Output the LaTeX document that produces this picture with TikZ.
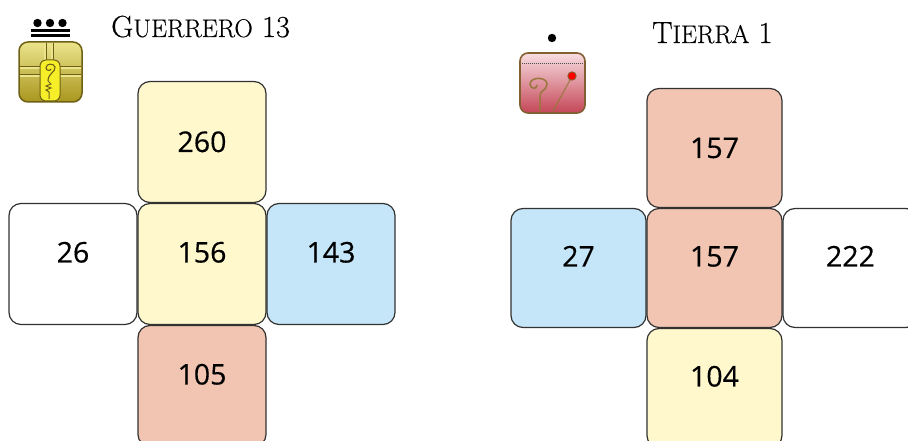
\documentclass[tikz,border=0pt]{standalone}
\usepackage{fontspec}
\newfontfamily\numfont{Open Sans}[FakeBold=0.4]
\newfontfamily\titlefont{Latin Modern Roman}[FakeBold=0.5]
\usetikzlibrary{positioning}
\definecolor{cellyellow}{RGB}{255,248,204}
\definecolor{cellblue}{RGB}{197,230,249}
\definecolor{cellred}{RGB}{241,197,178}
\definecolor{cellline}{RGB}{50,50,50}
\definecolor{goldedge}{RGB}{110,96,20}
\definecolor{goldlight}{RGB}{236,228,140}
\definecolor{golddark}{RGB}{168,150,30}
\definecolor{keyyellow}{RGB}{246,238,40}
\definecolor{pinkedge}{RGB}{130,96,50}
\definecolor{pinklight}{RGB}{248,222,226}
\definecolor{pinkdark}{RGB}{196,70,86}
\definecolor{chaingold}{RGB}{150,120,60}
\newcommand{\capsize}{\fontsize{30.5}{34}\selectfont}
\newcommand{\smallsize}{\fontsize{25.5}{28}\selectfont}
\begin{document}
\begin{tikzpicture}[x=1pt,y=1pt,
    cell/.style={draw=cellline,line width=1.2pt,rounded corners=12pt,outer sep=0pt,
      minimum width=128pt,minimum height=121pt,
      font=\numfont\fontsize{28.5}{30}\selectfont,text height=20pt,text depth=0pt},
    raised/.style={text depth=23pt},
    widecell/.style={minimum width=135pt,minimum height=119pt},
    title/.style={anchor=base west,inner sep=0pt,font=\titlefont\capsize},
    node distance=1pt]
  \useasboundingbox (0,0) rectangle (908,441);
  \node[title] (guerrero) at (111,404) {G{\smallsize UERRERO} 13};
  \node[title] (tierra) at (652,398) {T{\smallsize IERRA} 1};

  \node[cell,raised,fill=cellyellow] (g0) at (202,177) {156};
  \node[cell,fill=cellyellow,above=of g0] (g1) {260};
  \node[cell,raised,fill=white,left=of g0] (g2) {26};
  \node[cell,raised,fill=cellblue,right=of g0] (g3) {143};
  \node[cell,raised,fill=cellred,below=of g0] (g4) {105};

  \node[cell,widecell,raised,fill=cellred] (t0) at (714.5,173) {157};
  \node[cell,widecell,fill=cellred,above=of t0] (t1) {157};
  \node[cell,widecell,raised,fill=cellblue,left=of t0] (t2) {27};
  \node[cell,widecell,raised,fill=white,right=of t0] (t3) {222};
  \node[cell,widecell,raised,fill=cellyellow,below=of t0] (t4) {104};

  \fill (37.5,418) circle (4.2) (50,418) circle (4.2) (62.5,418) circle (4.2);
  \draw[line width=3pt] (31,410) -- (70,410) (31,405) -- (70,405);
  \draw[line width=1.5pt,draw=goldedge,rounded corners=9pt,top color=goldlight,bottom color=golddark] (19,339) rectangle (82,399);
  \draw[goldedge,line width=0.7pt,double=goldlight,double distance=1.6pt] (45,398) -- (45,381) (52,398) -- (52,381);
  \draw[goldedge,line width=0.7pt,double=goldlight,double distance=1.6pt] (20,373) -- (40,373) (20,365) -- (40,365) (60,373) -- (81,373) (60,365) -- (81,365);
  \draw[goldedge,line width=1pt,fill=keyyellow,rounded corners=6pt] (40,340) rectangle (60,381);
  \draw[goldedge,line width=1.1pt] (48,360) .. controls (48,368) and (56,369) .. (55,374) .. controls (54,378) and (46,378) .. (46,373) .. controls (46,370) and (51,370) .. (51,372);
  \draw[goldedge,line width=1pt] (48,360) -- (51,357) -- (46,355) -- (51,353) -- (46,351) -- (49,349) -- (49,342);

  \fill (552,403) circle (4.2);
  \draw[line width=1.6pt,draw=pinkedge,rounded corners=8pt,top color=pinklight,bottom color=pinkdark] (520,328) rectangle (585,388);
  \draw[gray!60!black,line width=0.8pt,dash pattern=on 1.2pt off 0.8pt] (522,378) -- (583,378);
  \draw[chaingold,line width=1.4pt,dash pattern=on 1.5pt off 0.8pt] (570,361) -- (553,330);
  \draw[fill=red,draw=pinkedge,line width=0.8pt] (572,365) circle (4.2);
  \draw[chaingold,line width=1.5pt] (540,330) -- (540,346) .. controls (540,350) and (547,351) .. (547,357) .. controls (547,364) and (531,365) .. (530,357) .. controls (530,352) and (537,351) .. (537,356);
\end{tikzpicture}
\end{document}
